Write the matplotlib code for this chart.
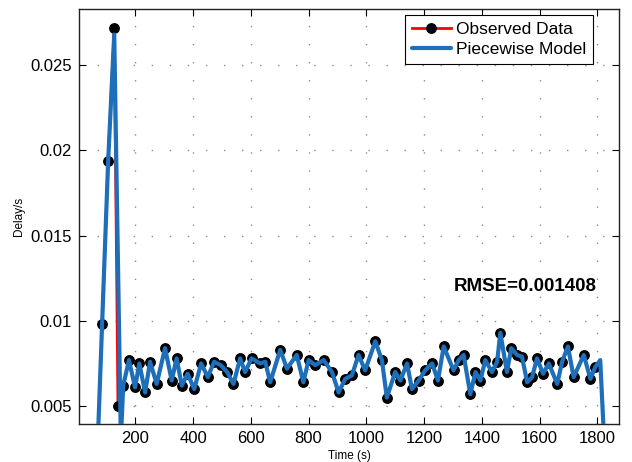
import numpy as np
import matplotlib
matplotlib.use("Agg")
import matplotlib.pyplot as plt
from matplotlib.ticker import FixedLocator, FuncFormatter

plt.rcParams['font.family'] = ['Liberation Sans', 'DejaVu Sans']

# Observed delay samples (time in s, delay in s)
obs_time = [85, 106, 127, 140, 158, 178, 199, 214, 234, 251,
            274, 303, 326, 343, 361, 381, 404, 428, 451, 473,
            496, 518, 540, 563, 580, 603, 632, 650, 667, 702,
            725, 759, 782, 800, 823, 852, 881, 904, 927, 950,
            973, 996, 1031, 1054, 1071, 1100, 1118, 1141, 1158, 1181,
            1204, 1228, 1248, 1268, 1302, 1320, 1337, 1360, 1378, 1395,
            1412, 1435, 1453, 1464, 1487, 1502, 1522, 1539, 1557, 1574,
            1591, 1612, 1632, 1661, 1678, 1698, 1718, 1753, 1776, 1793]
obs_delay = [0.0098, 0.0194, 0.0272, 0.0050, 0.0062, 0.0077, 0.0061, 0.0075, 0.0058, 0.0076,
             0.0063, 0.0084, 0.0065, 0.0078, 0.0062, 0.0069, 0.0060, 0.0075, 0.0067, 0.0076,
             0.0074, 0.0070, 0.0063, 0.0078, 0.0070, 0.0078, 0.0075, 0.0076, 0.0064, 0.0083,
             0.0072, 0.0080, 0.0064, 0.0077, 0.0074, 0.0077, 0.0070, 0.0058, 0.0066, 0.0068,
             0.0080, 0.0071, 0.0088, 0.0077, 0.0055, 0.0070, 0.0065, 0.0075, 0.0060, 0.0065,
             0.0071, 0.0075, 0.0065, 0.0085, 0.0071, 0.0077, 0.0080, 0.0057, 0.0070, 0.0065,
             0.0077, 0.0070, 0.0076, 0.0093, 0.0070, 0.0084, 0.0080, 0.0079, 0.0064, 0.0067,
             0.0078, 0.0069, 0.0075, 0.0063, 0.0076, 0.0085, 0.0067, 0.0080, 0.0066, 0.0073]

# Piecewise model: leading segment, then tracks the samples, then trailing segment
model_head_time = [70, 85, 106, 127, 150]
model_head_delay = [0.0029, 0.0098, 0.0194, 0.0268, 0.0030]
model_body_start = 4
model_tail_time = [1810, 1832]
model_tail_delay = [0.0077, 0.0000]

rmse = 0.001408

x_ticks = [200, 400, 600, 800, 1000, 1200, 1400, 1600, 1800]
y_ticks = [0.005, 0.01, 0.015, 0.02, 0.025]

model_time = model_head_time + obs_time[model_body_start:] + model_tail_time
model_delay = model_head_delay + obs_delay[model_body_start:] + model_tail_delay

fig = plt.figure(figsize=(6.32, 4.62), dpi=100)
ax = fig.add_axes([79 / 632, 1 - 424 / 462, (619 - 79) / 632, (424 - 9) / 462])

ax.plot(obs_time, obs_delay, color='#ff0000', lw=2.0, marker='o', ms=6.8,
        mfc='black', mec='black', label='Observed Data', zorder=3)
ax.plot(model_time, model_delay, color='#1c6fb8', lw=3.0,
        solid_joinstyle='round', solid_capstyle='round',
        label='Piecewise Model', zorder=4)

ax.set_xlim(5, 1875)
ax.set_ylim(0.00395, 0.0283)

ax.xaxis.set_major_locator(FixedLocator(x_ticks))
ax.yaxis.set_major_locator(FixedLocator(y_ticks))
ax.yaxis.set_major_formatter(FuncFormatter(lambda v, p: f"{v:g}"))
ax.tick_params(direction='in', length=5, width=0.8, top=True, right=True,
               labelsize=12, pad=5)

ax.grid(True, color='#8c8c8c', lw=1.0, linestyle=(0, (1, 12)))
for s in ax.spines.values():
    s.set_linewidth(1.0)
    s.set_color('#222222')

ax.set_xlabel('Time (s)', fontsize=8.5, labelpad=3)
ax.set_ylabel('Delay/s', fontsize=8.5, labelpad=4)

leg = ax.legend(loc='upper right', bbox_to_anchor=(593 / 632, 1 - 15 / 462),
                bbox_transform=fig.transFigure, borderaxespad=0,
                fontsize=12.5, handlelength=2.2, handletextpad=0.3,
                borderpad=0.4, labelspacing=0.25, fancybox=False,
                framealpha=1, edgecolor='black')
leg.get_frame().set_linewidth(0.8)

ax.text(0.826, 0.332, f'RMSE={rmse:.6f}', transform=ax.transAxes,
        ha='center', va='center', fontsize=13.5, fontweight='bold')

fig.savefig('out.png', dpi=100)
